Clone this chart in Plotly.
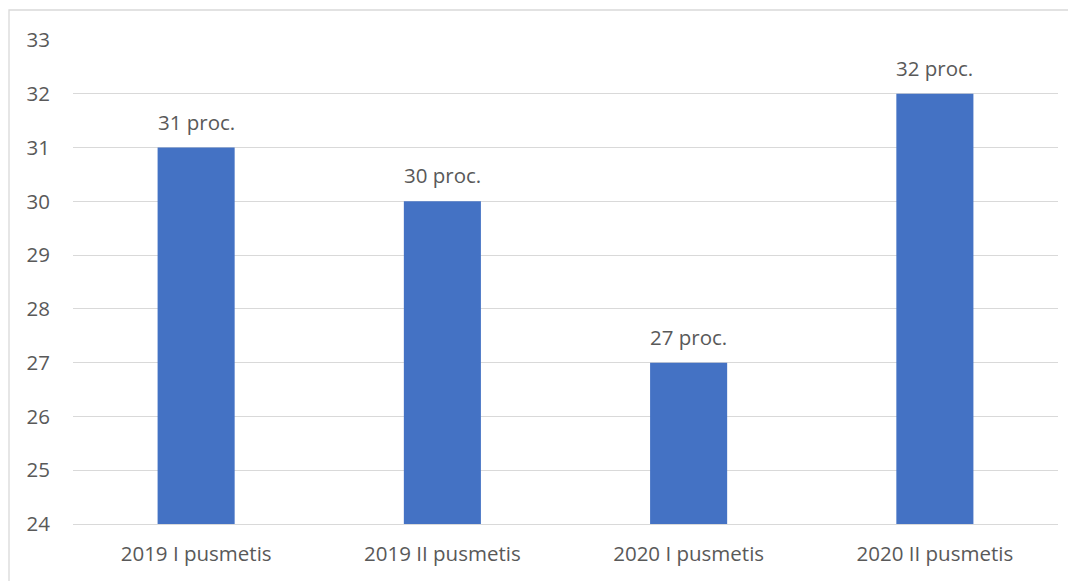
import plotly.graph_objects as go

categories = ["2019 I pusmetis", "2019 II pusmetis", "2020 I pusmetis", "2020 II pusmetis"]
values = [31, 30, 27, 32]
labels = ["31 proc.", "30 proc.", "27 proc.", "32 proc."]
y_ticks = [24, 25, 26, 27, 28, 29, 30, 31, 32, 33]

FONT = "Open Sans"
FS = 20.5
TXT = "#595959"
GRID = "#d9d9d9"

fig = go.Figure()
fig.add_trace(go.Bar(
    x=categories, y=values, base=0,
    marker=dict(color="#4472c4", line=dict(width=0)),
    hoverinfo="skip",
))

for c, v, t in zip(categories, values, labels):
    fig.add_annotation(x=c, y=v, text=t, showarrow=False, yanchor="bottom",
                       yshift=10, font=dict(family=FONT, size=FS, color=TXT))

# page offset of 8px (body margin) is taken into account
W, H = 1076, 581
ml, mr, mt, mb = 65, 26, 32, 65
pw, ph = W - ml - mr, H - mt - mb
fig.add_shape(type="rect", xref="paper", yref="paper",
              x0=(1 - ml) / pw, x1=(W + 20 - ml) / pw,
              y0=-(mb + 20) / ph, y1=1 + (mt - 2) / ph,
              line=dict(color=GRID, width=1.3), fillcolor="rgba(0,0,0,0)", layer="below")

fig.update_layout(
    width=W, height=H,
    margin=dict(l=ml, r=mr, t=mt, b=mb),
    paper_bgcolor="white", plot_bgcolor="white",
    bargap=0.687,
    showlegend=False,
    font=dict(family=FONT, size=FS, color=TXT),
)
fig.update_xaxes(showgrid=False, showline=True, linecolor=GRID, linewidth=1.3,
                 ticks="", ticklabelstandoff=11,
                 tickfont=dict(family=FONT, size=FS, color=TXT))
fig.update_yaxes(range=[24, 33], tickvals=y_ticks, showgrid=True, gridcolor=GRID,
                 gridwidth=1.3, zeroline=False, showline=False, ticks="",
                 ticklabelstandoff=22,
                 tickfont=dict(family=FONT, size=FS, color=TXT))

fig.write_html("out.html")
